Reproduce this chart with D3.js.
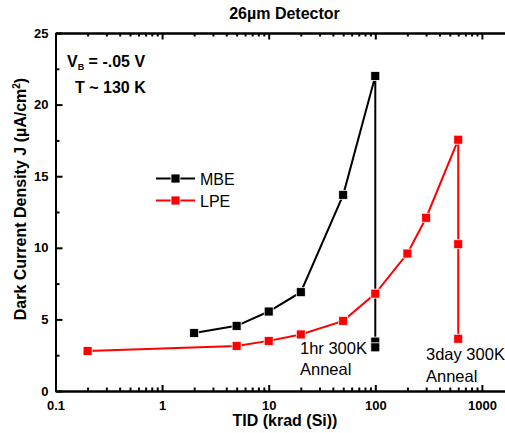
<!DOCTYPE html>
<html>
<head>
<meta charset="utf-8">
<script src="https://cdn.jsdelivr.net/npm/d3@7"></script>
<style>
  html, body { margin: 0; padding: 0; background: #fff; }
  svg { display: block; font-family: "Liberation Sans", Arial, sans-serif; }
</style>
</head>
<body>
<svg id="chart" width="505" height="433"></svg>
<script>
// Dark current density vs. total ionizing dose, 26 µm detector
const mbeDose    = [2, 5, 10, 20, 50, 100, 100, 100];
const mbeCurrent = [4.05, 4.55, 5.55, 6.9, 13.7, 22.0, 3.45, 3.05];
const lpeDose    = [0.2, 5, 10, 20, 50, 100, 200, 300, 600, 600, 600];
const lpeCurrent = [2.8, 3.15, 3.5, 3.95, 4.9, 6.8, 9.6, 12.1, 17.55, 10.25, 3.65];

const xTickLabels = ["0.1", "1", "10", "100", "1000"];
const yTickLabels = ["0", "5", "10", "15", "20", "25"];

const svg = d3.select("#chart");
const plotLeft = 55.5, plotTop = 33, plotBottom = 391;
const decade = 106.6;
const plotRight = plotLeft + decade * (Math.log10(1700) - Math.log10(0.1));

const x = d3.scaleLog().domain([0.1, 1700]).range([plotLeft, plotRight]);
const y = d3.scaleLinear().domain([0, 25]).range([plotBottom, plotTop]);

const majorX = xTickLabels.map(Number);
const minorX = [];
for (let e = -1; e < 3; e++) for (let m = 2; m <= 9; m++) minorX.push(m * Math.pow(10, e));
const majorY = yTickLabels.map(Number);
const minorY = [2.5, 7.5, 12.5, 17.5, 22.5];

const axisG = svg.append("g");

// bottom axis (ticks pointing inward)
axisG.append("g").attr("transform", `translate(0,${plotBottom})`)
  .call(d3.axisBottom(x).tickValues(majorX).tickSize(-6).tickSizeOuter(0)
    .tickFormat((d, i) => xTickLabels[i]).tickPadding(10));
axisG.append("g").attr("transform", `translate(0,${plotBottom})`)
  .call(d3.axisBottom(x).tickValues(minorX).tickSize(-3.5).tickSizeOuter(0).tickFormat(""));

// top axis
axisG.append("g").attr("transform", `translate(0,${plotTop})`)
  .call(d3.axisTop(x).tickValues(majorX).tickSize(-6.5).tickSizeOuter(0).tickFormat(""));
axisG.append("g").attr("transform", `translate(0,${plotTop})`)
  .call(d3.axisTop(x).tickValues(minorX).tickSize(-3.5).tickSizeOuter(0).tickFormat(""));

// left axis
axisG.append("g").attr("transform", `translate(${plotLeft},0)`)
  .call(d3.axisLeft(y).tickValues(majorY).tickSize(-7).tickSizeOuter(0)
    .tickFormat((d, i) => yTickLabels[i]).tickPadding(7));
axisG.append("g").attr("transform", `translate(${plotLeft},0)`)
  .call(d3.axisLeft(y).tickValues(minorY).tickSize(-4).tickSizeOuter(0).tickFormat(""));

axisG.selectAll("path.domain").attr("stroke", "#000").attr("stroke-width", 2);
axisG.selectAll(".tick line").attr("stroke", "#000").attr("stroke-width", 2);
axisG.selectAll(".tick text").attr("fill", "#000")
  .style("font-size", "13px").style("font-weight", "bold")
  .style("font-family", "'Liberation Sans', Arial, sans-serif");

// series
const series = [
  { name: "MBE", color: "#000000", xs: mbeDose, ys: mbeCurrent },
  { name: "LPE", color: "#ff0000", xs: lpeDose, ys: lpeCurrent }
];
const line = d3.line().x(d => x(d[0])).y(d => y(d[1]));
const ms = 9;

series.forEach(s => {
  const pts = s.xs.map((v, i) => [v, s.ys[i]]);
  svg.append("path").datum(pts).attr("d", line)
    .attr("fill", "none").attr("stroke", s.color).attr("stroke-width", 2);
  svg.append("g").selectAll("rect").data(pts).join("rect")
    .attr("x", d => x(d[0]) - ms / 2).attr("y", d => y(d[1]) - ms / 2)
    .attr("width", ms).attr("height", ms)
    .attr("fill", s.color).attr("stroke", "#fff").attr("stroke-width", 0.8);
});

// legend
const legend = svg.append("g");
series.forEach((s, i) => {
  const ly = 178.5 + i * 22;
  legend.append("line").attr("x1", 156).attr("x2", 195).attr("y1", ly).attr("y2", ly)
    .attr("stroke", s.color).attr("stroke-width", 2);
  legend.append("rect").attr("x", 175.5 - ms / 2).attr("y", ly - ms / 2)
    .attr("width", ms).attr("height", ms).attr("fill", s.color)
    .attr("stroke", "#fff").attr("stroke-width", 0.8);
  legend.append("text").attr("x", 200).attr("y", ly + 6)
    .style("font-size", "16px").text(s.name);
});

// title
svg.append("text").attr("x", 284.5).attr("y", 19).attr("text-anchor", "middle")
  .style("font-size", "16px").style("font-weight", "bold").text("26µm Detector");

// axis titles
svg.append("text").attr("x", 285).attr("y", 426).attr("text-anchor", "middle")
  .style("font-size", "16px").style("font-weight", "bold").text("TID (krad (Si))");

const yl = svg.append("text")
  .attr("transform", "translate(26,199) rotate(-90)").attr("text-anchor", "middle")
  .style("font-size", "16px").style("font-weight", "bold");
yl.append("tspan").text("Dark Current Density J (µA/cm");
yl.append("tspan").attr("dy", -6).style("font-size", "10px").text("2");
yl.append("tspan").attr("dy", 6).text(")");

// bias / temperature notes
const vb = svg.append("text").attr("x", 67).attr("y", 67)
  .style("font-size", "16px").style("font-weight", "bold");
vb.append("tspan").text("V");
vb.append("tspan").attr("dy", 3).style("font-size", "9px").text("B");
vb.append("tspan").attr("dy", -3).text(" = -.05 V");
svg.append("text").attr("x", 75).attr("y", 92.5)
  .style("font-size", "16px").style("font-weight", "bold").text("T ~ 130 K");

// anneal annotations
function note(x0, y0, lines) {
  const t = svg.append("text").style("font-size", "16.5px");
  lines.forEach((s, i) => t.append("tspan").attr("x", x0).attr("y", y0 + i * 21.5).text(s));
}
note(300, 353.5, ["1hr 300K", "Anneal"]);
note(426, 360, ["3day 300K", "Anneal"]);
</script>
</body>
</html>
